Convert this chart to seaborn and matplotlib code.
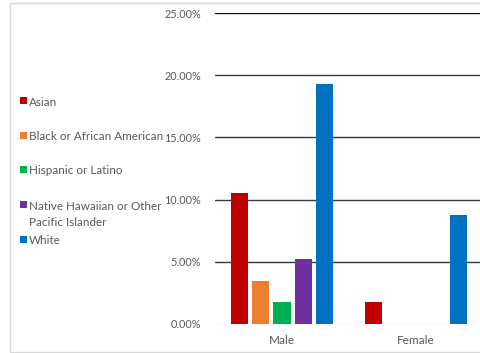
import matplotlib
matplotlib.use("Agg")
import matplotlib.pyplot as plt
import seaborn as sns
import pandas as pd
from matplotlib.patches import Rectangle
from matplotlib.ticker import FuncFormatter

sns.set_theme(style="white")
plt.rcParams['font.family'] = ['Lato', 'DejaVu Sans']

genders = ["Male", "Female"]
races = ["Asian", "Black or African American", "Hispanic or Latino",
         "Native Hawaiian or Other\nPacific Islander", "White"]
male_vals = [0.1053, 0.0346, 0.0177, 0.0522, 0.1930]
female_vals = [0.0175, 0.0, 0.0, 0.0, 0.0877]
colors = ["#C00000", "#ED7D31", "#00B050", "#7030A0", "#0070C0"]
y_ticks = [0.0, 0.05, 0.10, 0.15, 0.20, 0.25]

rows = []
for g, vals in zip(genders, [male_vals, female_vals]):
    for r, v in zip(races, vals):
        rows.append({"gender": g, "race": r, "value": v})
df = pd.DataFrame(rows)

W, H = 481, 353
fig = plt.figure(figsize=(W / 100, H / 100), dpi=100)
fig.patch.set_facecolor("white")
# outer chart border
fig.patches.append(Rectangle((10 / W, 1 / H), 1.2, (349 / H), transform=fig.transFigure,
                             fill=False, edgecolor="#d9d9d9", linewidth=1.0))

ax = fig.add_axes([215 / W, (H - 324) / H, 268 / W, (324 - 13) / H])
sns.barplot(data=df, x="gender", y="value", hue="race", order=genders,
            hue_order=races, palette=colors, width=0.784, gap=0.19,
            legend=False, ax=ax, saturation=1, linewidth=0)
ax.set_xlim(-0.5, 1.5)
ax.set_ylim(0, 0.25)
ax.set_yticks(y_ticks)
ax.yaxis.set_major_formatter(FuncFormatter(lambda v, p: f"{v * 100:.2f}%"))
ax.set_xlabel("")
ax.set_ylabel("")
for s in ax.spines.values():
    s.set_visible(False)
ax.set_axisbelow(True)
ax.yaxis.grid(True)
for t, gl in zip(y_ticks, ax.yaxis.get_gridlines()):
    if t == 0:
        gl.set_color("#d9d9d9")
    elif t == 0.25:
        gl.set_color("#111111")
    else:
        gl.set_color("#3a3a3a")
    gl.set_linewidth(1.0)
ax.tick_params(axis="y", length=0, pad=10, labelsize=7.8, labelcolor="#595959")
ax.tick_params(axis="x", length=0, pad=8, labelsize=8.5, labelcolor="#595959")

# legend (manual, matches Excel style)
leg_y = [100, 135, 169, 204, 239]
for lab, col, yy in zip(races, colors, leg_y):
    fig.patches.append(Rectangle((20 / W, (H - yy - 3.5) / H), 7 / W, 7 / H,
                                 transform=fig.transFigure, facecolor=col,
                                 edgecolor="none"))
    fig.text(29 / W, (H - yy + 3.5) / H, lab, fontsize=8.4, color="#595959",
             va="top", ha="left", linespacing=1.65)

fig.savefig("out.png", dpi=100)
